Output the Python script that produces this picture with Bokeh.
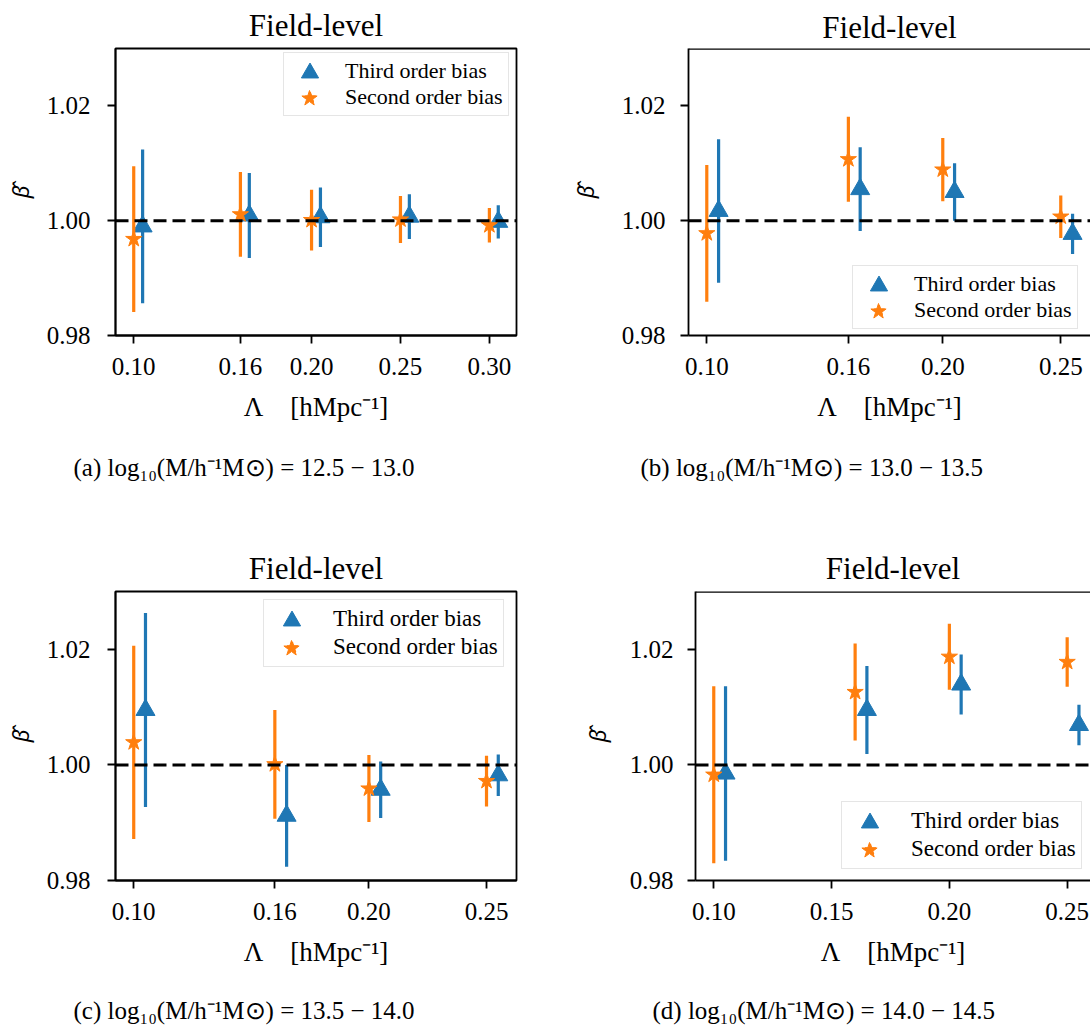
from bokeh.plotting import figure
from bokeh.layouts import row, column
from bokeh.models import (Span, Legend, LegendItem, FixedTicker,
                          PrintfTickFormatter, Range1d)
from bokeh.core.properties import value
from bokeh.embed import file_html
from bokeh.resources import INLINE

BLUE = "#1f77b4"
ORANGE = "#ff7f0e"
FONT = "Liberation Serif"
DX = 0.005  # horizontal shift of the third-order points

# cutoff scales Lambda [h/Mpc]
lam_a = [0.10, 0.16, 0.20, 0.25, 0.30]
lam_b = [0.10, 0.16, 0.20, 0.25]
lam_c = [0.10, 0.16, 0.20, 0.25]
lam_d = [0.10, 0.16, 0.20, 0.25]

# (a) log10 M = 12.5 - 13.0
third_a = [0.9990, 1.0009, 1.0006, 1.0007, 0.9998]
third_err_a = [0.0134, 0.0074, 0.0052, 0.0039, 0.0029]
second_a = [0.9968, 1.0011, 1.0001, 1.0002, 0.9992]
second_err_a = [0.0127, 0.0074, 0.0053, 0.0041, 0.0030]

# (b) log10 M = 13.0 - 13.5
third_b = [1.0017, 1.0055, 1.0050, 0.9977]
third_err_b = [0.0125, 0.0073, 0.0050, 0.0035]
second_b = [0.9978, 1.0107, 1.0089, 1.0007]
second_err_b = [0.0119, 0.0074, 0.0055, 0.0037]

# (c) log10 M = 13.5 - 14.0
third_c = [1.0095, 0.9912, 0.9957, 0.9982]
third_err_c = [0.0168, 0.0088, 0.0049, 0.0036]
second_c = [1.0039, 1.0001, 0.9959, 0.9972]
second_err_c = [0.0167, 0.0094, 0.0058, 0.0044]

# (d) log10 M = 14.0 - 14.5
third_d = [0.9985, 1.0095, 1.0139, 1.0069]
third_err_d = [0.0151, 0.0076, 0.0052, 0.0035]
second_d = [0.9983, 1.0126, 1.0187, 1.0178]
second_err_d = [0.0153, 0.0084, 0.0057, 0.0043]

xticks_a = [0.10, 0.16, 0.20, 0.25, 0.30]
xticks_b = [0.10, 0.16, 0.20, 0.25]
xticks_c = [0.10, 0.16, 0.20, 0.25]
xticks_d = [0.10, 0.15, 0.20, 0.25]
yticks = [0.98, 1.00, 1.02]

captions = [
    "(a) log\u2081\u2080(M/h\u207b\u00b9M\u2299) = 12.5 \u2212 13.0",
    "(b) log\u2081\u2080(M/h\u207b\u00b9M\u2299) = 13.0 \u2212 13.5",
    "(c) log\u2081\u2080(M/h\u207b\u00b9M\u2299) = 13.5 \u2212 14.0",
    "(d) log\u2081\u2080(M/h\u207b\u00b9M\u2299) = 14.0 \u2212 14.5",
]


def add_legend(p, tri, star, frame_h, box_left, box_top, gw, gh, standoff,
               font_size):
    """Framed legend with text; enlarged marker keys are laid over it."""
    pad = 5
    box_h = 2 * pad + 2 * gh
    leg = Legend(items=[LegendItem(label="Third order bias", renderers=[tri]),
                        LegendItem(label="Second order bias", renderers=[star])],
                 location=(box_left, frame_h - box_top - box_h),
                 padding=pad, spacing=0, margin=0,
                 glyph_width=gw, glyph_height=gh, label_height=gh,
                 label_standoff=standoff,
                 label_text_font=FONT, label_text_font_size=font_size,
                 label_text_color="black",
                 border_line_color="#cccccc", border_line_width=1.5,
                 background_fill_alpha=0.85)
    p.add_layout(leg)
    cx = box_left + pad + gw / 2
    for i, (r, s) in enumerate([(tri, 43), (star, 40)]):
        cy = box_top + pad + i * gh + gh / 2
        key = Legend(items=[LegendItem(label=" ", renderers=[r])],
                     location=(cx - s / 2, frame_h - (cy - s / 2) - s),
                     padding=0, spacing=0, margin=0,
                     glyph_width=s, glyph_height=s, label_height=s,
                     label_width=1, label_standoff=0,
                     label_text_font_size="1px",
                     border_line_color=None, background_fill_alpha=0)
        p.add_layout(key)


def panel(lam, third, third_err, second, second_err, xticks, xr,
          width, height, borders, full_box, title_standoff, ytick_standoff,
          ylab_standoff, legend_spec):
    left, right, top, bottom = borders
    frame_h = height - top - bottom
    p = figure(width=width, height=height, output_backend="svg",
               toolbar_location=None, x_range=Range1d(*xr),
               y_range=Range1d(0.98, 1.03),
               min_border_left=left, min_border_right=right,
               min_border_top=top, min_border_bottom=bottom)
    p.xgrid.visible = False
    p.ygrid.visible = False
    p.background_fill_color = "white"
    p.border_fill_color = "white"

    p.title.text = "Field-level"
    p.title.align = "center"
    p.title.text_font = FONT
    p.title.text_font_style = "normal"
    p.title.text_font_size = "31px"
    p.title.text_color = "black"
    p.title.standoff = title_standoff

    for ax in (p.xaxis[0], p.yaxis[0]):
        ax.axis_line_width = 1.8
        ax.axis_line_color = "black"
        ax.major_tick_line_width = 1.8
        ax.major_tick_out = 8
        ax.major_tick_in = 0
        ax.minor_tick_line_color = None
        ax.major_label_text_font = FONT
        ax.major_label_text_font_size = "25px"
        ax.major_label_text_color = "black"
        ax.axis_label_text_color = "black"
    p.xaxis.ticker = FixedTicker(ticks=xticks)
    p.xaxis.formatter = PrintfTickFormatter(format="%.2f")
    p.xaxis.major_label_standoff = 14
    p.xaxis.axis_label = "\u039b\u2002\u2002[hMpc\u207b\u00b9]"
    p.xaxis.axis_label_text_font = FONT
    p.xaxis.axis_label_text_font_style = "normal"
    p.xaxis.axis_label_text_font_size = "27px"
    p.xaxis.axis_label_standoff = 14

    p.yaxis.ticker = FixedTicker(ticks=yticks)
    p.yaxis.formatter = PrintfTickFormatter(format="%.2f")
    p.yaxis.major_label_standoff = ytick_standoff
    p.yaxis.axis_label = "\u03b2\u0302"
    p.yaxis.axis_label_text_font = "Noto Sans"
    p.yaxis.axis_label_text_font_style = "italic"
    p.yaxis.axis_label_text_font_size = "22px"
    p.yaxis.axis_label_standoff = ylab_standoff

    if full_box:
        p.outline_line_color = "black"
        p.outline_line_width = 1.8
        p.outline_line_alpha = 1.0
    else:
        p.outline_line_color = None
        p.add_layout(Span(location=1.03, dimension="width",
                          line_color="black", line_width=2.4))

    p.add_layout(Span(location=1.0, dimension="width", line_color="black",
                      line_width=3, line_dash="13 6"))

    xt = [x + DX for x in lam]
    p.segment(x0=xt, x1=xt,
              y0=[v - e for v, e in zip(third, third_err)],
              y1=[v + e for v, e in zip(third, third_err)],
              line_color=BLUE, line_width=3.2)
    tri = p.scatter(xt, third, marker="triangle", size=19, fill_color=BLUE,
                    line_color=BLUE)
    p.segment(x0=lam, x1=lam,
              y0=[v - e for v, e in zip(second, second_err)],
              y1=[v + e for v, e in zip(second, second_err)],
              line_color=ORANGE, line_width=3.2)
    star = p.scatter(lam, second, marker="star", size=17, fill_color=ORANGE,
                     line_color=ORANGE)

    add_legend(p, tri, star, frame_h, *legend_spec)
    return p


def caption_strip(text, width, height, left, center_from_top):
    """A text-only strip holding a sub-figure caption (pixel coordinates)."""
    c = figure(width=width, height=height, output_backend="svg",
               toolbar_location=None, title=None,
               x_range=Range1d(0, width), y_range=Range1d(0, height),
               x_axis_type=None, y_axis_type=None, min_border=0)
    c.outline_line_color = None
    c.background_fill_color = "white"
    c.border_fill_color = "white"
    c.text(x=[left], y=[height - center_from_top], text=[text],
           text_font=value(FONT), text_font_size="25px", text_color="black",
           text_baseline="middle", text_align="left")
    return c


pa = panel(lam_a, third_a, third_err_a, second_a, second_err_a, xticks_a,
           (0.08975, 0.31525), 560, 440, (115, 44, 48, 102),
           True, 11, 17, 9, (168, 9, 42, 26, 14, "22px"))
pb = panel(lam_b, third_b, third_err_b, second_b, second_err_b, xticks_b,
           (0.09225, 0.2626), 530, 440, (128, 0, 44, 105),
           False, 7, 15, 19, (164, 223, 42, 26, 14, "22px"))
pc = panel(lam_c, third_c, third_err_c, second_c, second_err_c, xticks_c,
           (0.09225, 0.26275), 560, 475, (115, 44, 91, 95),
           True, 11, 17, 9, (148, 10, 46, 28, 18, "23px"))
pd = panel(lam_d, third_d, third_err_d, second_d, second_err_d, xticks_d,
           (0.09225, 0.2599), 530, 475, (135, 0, 91, 94),
           False, 11, 14, 15, (146, 213, 46, 28, 18, "23px"))

ca = caption_strip(captions[0], 560, 60, 73, 27)
cb = caption_strip(captions[1], 530, 60, 80, 27)
cc = caption_strip(captions[2], 560, 52, 73, 35)
cd = caption_strip(captions[3], 530, 52, 92, 35)

layout = column(row(pa, pb), row(ca, cb), row(pc, pd), row(cc, cd))
open("out.html", "w").write(file_html(layout, INLINE))
